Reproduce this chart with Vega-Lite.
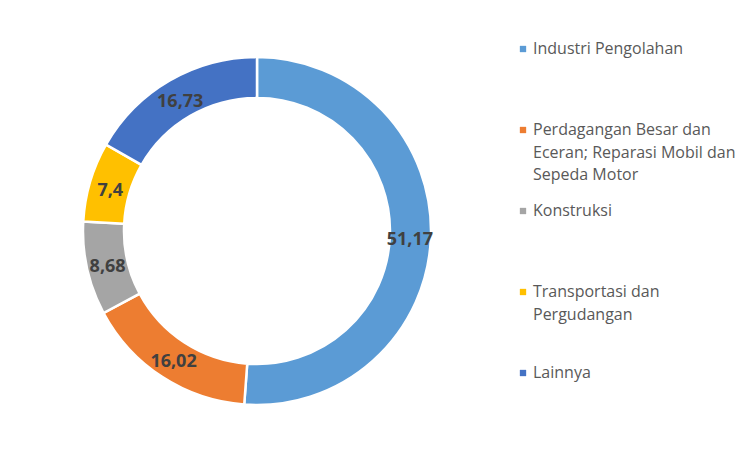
{
  "$schema": "https://vega.github.io/schema/vega-lite/v6.json",
  "width": 514,
  "height": 446,
  "autosize": {"type": "none"},
  "padding": {"left": 0, "top": 8, "right": 240, "bottom": 0},
  "background": "white",
  "data": {
    "values": [
      {"sector": "Industri Pengolahan", "value": 51.17, "label": "51,17", "idx": 1},
      {"sector": "Perdagangan Besar dan Eceran; Reparasi Mobil dan Sepeda Motor", "value": 16.02, "label": "16,02", "idx": 2},
      {"sector": "Konstruksi", "value": 8.68, "label": "8,68", "idx": 3},
      {"sector": "Transportasi dan Pergudangan", "value": 7.4, "label": "7,4", "idx": 4},
      {"sector": "Lainnya", "value": 16.73, "label": "16,73", "idx": 5}
    ]
  },
  "encoding": {
    "theta": {"field": "value", "type": "quantitative", "stack": true},
    "order": {"field": "idx", "type": "quantitative"}
  },
  "layer": [
    {
      "mark": {"type": "arc", "outerRadius": 174, "innerRadius": 133, "stroke": "white", "strokeWidth": 2.5},
      "encoding": {
        "color": {
          "field": "sector",
          "type": "nominal",
          "sort": ["Industri Pengolahan", "Perdagangan Besar dan Eceran; Reparasi Mobil dan Sepeda Motor", "Konstruksi", "Transportasi dan Pergudangan", "Lainnya"],
          "scale": {
            "domain": ["Industri Pengolahan", "Perdagangan Besar dan Eceran; Reparasi Mobil dan Sepeda Motor", "Konstruksi", "Transportasi dan Pergudangan", "Lainnya"],
            "range": ["#5B9BD5", "#ED7D31", "#A5A5A5", "#FFC000", "#4472C4"]
          },
          "legend": {
            "orient": "none",
            "legendX": 515,
            "legendY": 33,
            "title": null,
            "symbolType": "square",
            "symbolSize": 40,
            "symbolStrokeWidth": 0,
            "labelFont": "Open Sans",
            "labelFontSize": 16,
            "labelColor": "#595959",
            "labelOffset": 2,
            "labelLimit": 400,
            "rowPadding": 20,
            "gridAlign": "all",
            "labelExpr": "datum.label == 'Perdagangan Besar dan Eceran; Reparasi Mobil dan Sepeda Motor' ? ['Perdagangan Besar dan', 'Eceran; Reparasi Mobil dan', 'Sepeda Motor'] : datum.label == 'Transportasi dan Pergudangan' ? ['Transportasi dan', 'Pergudangan'] : datum.label"
          }
        }
      }
    },
    {
      "mark": {"type": "text", "radius": 153, "dy": 3, "font": "Open Sans", "fontWeight": "bold", "fontSize": 18},
      "encoding": {
        "text": {"field": "label"},
        "detail": {"field": "sector"},
        "color": {"value": "#404040"}
      }
    }
  ],
  "config": {
    "view": {"stroke": null},
    "style": {"guide-label": {"lineHeight": 22.5}}
  }
}
